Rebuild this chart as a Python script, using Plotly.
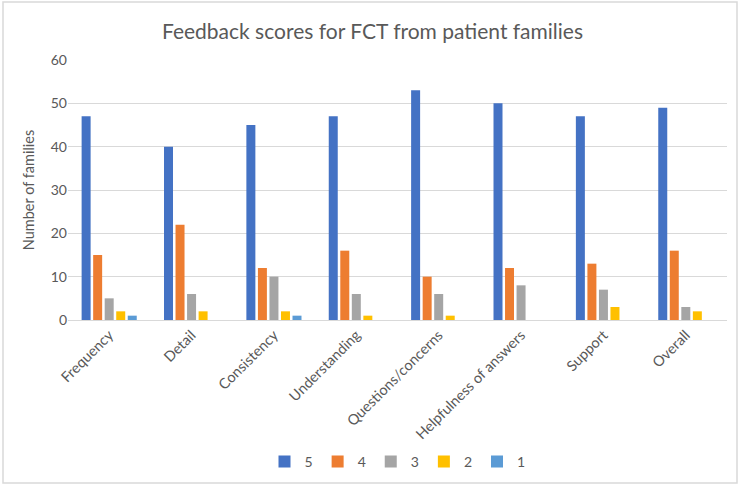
import plotly.graph_objects as go

categories = ["Frequency", "Detail", "Consistency", "Understanding",
              "Questions/concerns", "Helpfulness of answers", "Support", "Overall"]
series_names = ["5", "4", "3", "2", "1"]
score5 = [47, 40, 45, 47, 53, 50, 47, 49]
score4 = [15, 22, 12, 16, 10, 12, 13, 16]
score3 = [5, 6, 10, 6, 6, 8, 7, 3]
score2 = [2, 2, 2, 1, 1, 0, 3, 2]
score1 = [1, 0, 1, 0, 0, 0, 0, 0]
colors = ["#4472C4", "#ED7D31", "#A5A5A5", "#FFC000", "#5B9BD5"]

W, H = 745, 487
ml, mr, mt, mb = 68, 18, 60, 167
pw, ph = W - ml - mr, H - mt - mb

fig = go.Figure()
for name, vals, col in zip(series_names, [score5, score4, score3, score2, score1], colors):
    fig.add_trace(go.Bar(name=name, x=categories, y=vals, marker_color=col,
                         marker_line_width=0))

font_family = "Lato, 'Open Sans', sans-serif"
fig.update_layout(
    width=W, height=H,
    margin=dict(l=ml, r=mr, t=mt, b=mb, autoexpand=False),
    paper_bgcolor="white", plot_bgcolor="white",
    barmode="group", bargap=0.3, bargroupgap=0.22,
    font=dict(family=font_family, size=14, color="#595959"),
    title=dict(text="Feedback scores for FCT from patient families",
               x=0.5, xanchor="center", y=1 - 32 / H, yanchor="middle",
               font=dict(size=21, color="#595959", family=font_family)),
    legend=dict(orientation="h", x=0.5, xanchor="center",
                y=-(462 - 320) / ph, yanchor="middle",
                font=dict(size=14, color="#595959"),
                itemwidth=30, traceorder="normal"),
    xaxis=dict(tickangle=-45, showgrid=False, showline=True, automargin=False,
               linecolor="#D9D9D9", linewidth=1, ticks="",
               tickfont=dict(size=14.5, color="#595959")),
    yaxis=dict(range=[0, 60], dtick=10, showgrid=True, gridcolor="#D9D9D9",
               gridwidth=1, zeroline=False, ticks="", automargin=False,
               tickfont=dict(size=14, color="#595959"),
               title=dict(text="Number of families", font=dict(size=14.5, color="#595959"),
                          standoff=12)),
    shapes=[dict(type="rect", xref="paper", yref="paper",
                 x0=(3 - ml) / pw, x1=(737 - ml) / pw,
                 y0=-(483 - mt - ph) / ph, y1=1 + (mt - 2) / ph,
                 line=dict(color="#D9D9D9", width=1.5), layer="below")],
)

fig.write_html("out.html", config={"displayModeBar": False},
               post_script="document.body.style.margin='0';document.body.style.overflow='hidden';")
